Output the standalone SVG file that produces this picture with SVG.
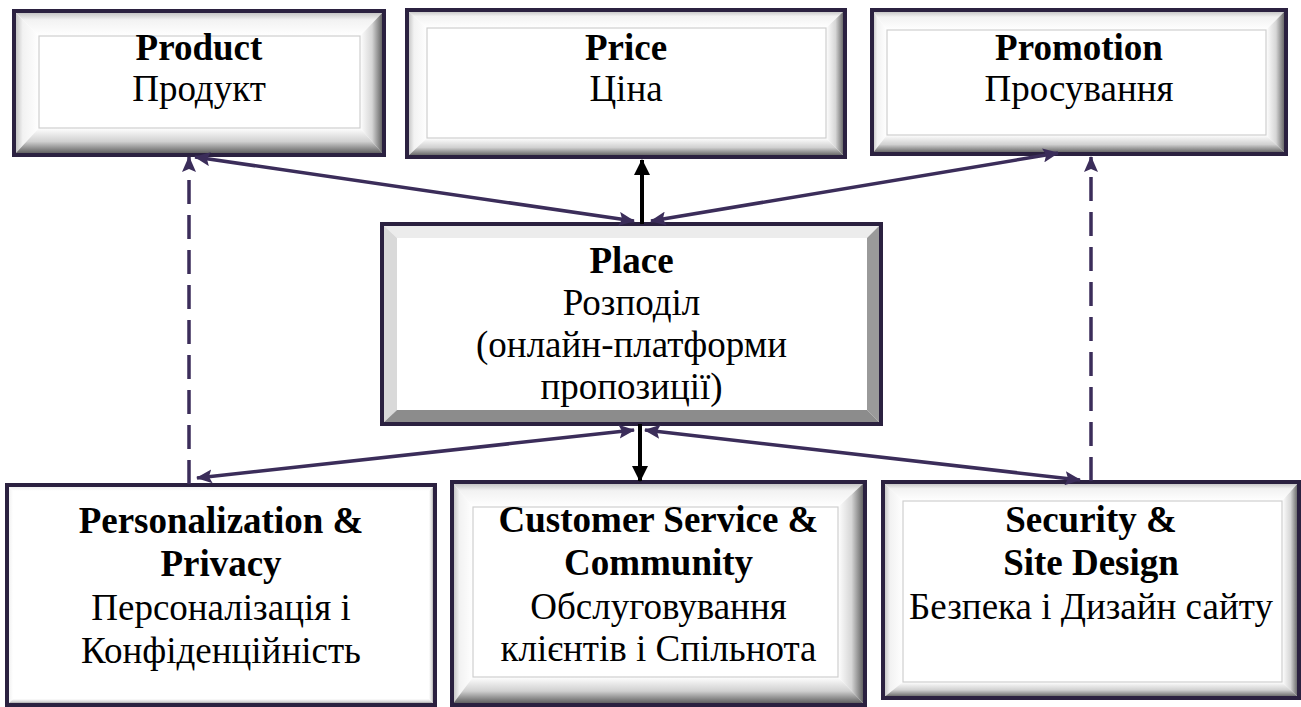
<svg xmlns="http://www.w3.org/2000/svg" width="1301" height="707" viewBox="0 0 1301 707">
<style>
.frame{fill:none;stroke:#2b2140;stroke-width:4}
.inner{fill:#fff;stroke:#cfcfcf;stroke-width:1.2}
.t{font-family:'Liberation Serif', 'Times New Roman', Times, serif;font-size:37px;fill:#000;text-anchor:middle}
.b{font-weight:bold}
.con{fill:none;stroke:#3b2d5a;stroke-width:3.5}
.blk{fill:none;stroke:#000;stroke-width:4}
.dash{stroke-dasharray:24 11}
</style>
<defs>
<linearGradient id="gTop" x1="0" y1="0" x2="0" y2="1"><stop offset="0" stop-color="#b8b8b8"/><stop offset="0.35" stop-color="#f2f2f2"/><stop offset="1" stop-color="#ffffff"/></linearGradient>
<linearGradient id="gLeft" x1="0" y1="0" x2="1" y2="0"><stop offset="0" stop-color="#b8b8b8"/><stop offset="0.35" stop-color="#f2f2f2"/><stop offset="1" stop-color="#ffffff"/></linearGradient>
<linearGradient id="gRight" x1="0" y1="0" x2="1" y2="0"><stop offset="0" stop-color="#ffffff"/><stop offset="0.5" stop-color="#d6d6d6"/><stop offset="1" stop-color="#505050"/></linearGradient>
<linearGradient id="gBottom" x1="0" y1="0" x2="0" y2="1"><stop offset="0" stop-color="#ffffff"/><stop offset="0.5" stop-color="#d0d0d0"/><stop offset="1" stop-color="#505050"/></linearGradient>
<marker id="ap" viewBox="0 0 16 14" refX="15" refY="7" markerWidth="16" markerHeight="14" markerUnits="userSpaceOnUse" orient="auto-start-reverse"><path d="M0,0 L16,7 L0,14 L3,7 z" fill="#3b2d5a"/></marker>
<marker id="ak" viewBox="0 0 16 16" refX="15" refY="8" markerWidth="16" markerHeight="16" markerUnits="userSpaceOnUse" orient="auto"><path d="M0,0 L16,8 L0,16 z" fill="#000"/></marker>
</defs>

<g id="product">
<polygon points="14,11 384,11 360,36 39,36" fill="url(#gTop)"/>
<polygon points="14,11 39,36 39,128 14,155" fill="url(#gLeft)"/>
<polygon points="360,36 384,11 384,155 360,128" fill="url(#gRight)"/>
<polygon points="39,128 360,128 384,155 14,155" fill="url(#gBottom)"/>
<rect class="inner" x="39" y="36" width="321" height="92"/>
<rect class="frame" x="14" y="11" width="370" height="144"/>
<text class="t b" x="199" y="60">Product</text>
<text class="t" x="199" y="101">Продукт</text>
</g>

<g id="price">
<polygon points="407,10 845,10 826,28 427,28" fill="url(#gTop)"/>
<polygon points="407,10 427,28 427,138 407,157" fill="url(#gLeft)"/>
<polygon points="826,28 845,10 845,157 826,138" fill="url(#gRight)"/>
<polygon points="427,138 826,138 845,157 407,157" fill="url(#gBottom)"/>
<rect class="inner" x="427" y="28" width="399" height="110"/>
<rect class="frame" x="407" y="10" width="438" height="147"/>
<text class="t b" x="626" y="60">Price</text>
<text class="t" x="626" y="101">Ціна</text>
</g>

<g id="promotion">
<polygon points="872,10 1286,10 1266,30 887,30" fill="url(#gTop)"/>
<polygon points="872,10 887,30 887,135 872,154" fill="url(#gLeft)"/>
<polygon points="1266,30 1286,10 1286,154 1266,135" fill="url(#gRight)"/>
<polygon points="887,135 1266,135 1286,154 872,154" fill="url(#gBottom)"/>
<rect class="inner" x="887" y="30" width="379" height="105"/>
<rect class="frame" x="872" y="10" width="414" height="144"/>
<text class="t b" x="1079" y="60">Promotion</text>
<text class="t" x="1079" y="101">Просування</text>
</g>

<g id="place">
<polygon points="382,224 881,224 867,238 397,238" fill="#ececec"/>
<polygon points="382,224 397,238 397,410 382,424" fill="#d9d9d9"/>
<polygon points="867,238 881,224 881,424 867,410" fill="#9a9a9a"/>
<polygon points="397,410 867,410 881,424 382,424" fill="#8c8c8c"/>
<rect x="397" y="238" width="470" height="172" fill="#fff"/>
<rect class="frame" x="382" y="224" width="499" height="200"/>
<text class="t b" x="631.5" y="273">Place</text>
<text class="t" x="631.5" y="315">Розподіл</text>
<text class="t" x="631.5" y="357">(онлайн-платформи</text>
<text class="t" x="631.5" y="399">пропозиції)</text>
</g>

<g id="personalization">
<polygon points="7,485 435,485 429,491 13,491" fill="url(#gTop)"/>
<polygon points="7,485 13,491 13,699 7,705" fill="url(#gLeft)"/>
<polygon points="429,491 435,485 435,705 429,699" fill="url(#gRight)"/>
<polygon points="13,699 429,699 435,705 7,705" fill="url(#gBottom)"/>
<rect x="13" y="491" width="416" height="208" fill="#fff"/>
<rect class="frame" x="7" y="485" width="428" height="220"/>
<text class="t b" x="221" y="533">Personalization &amp;</text>
<text class="t b" x="221" y="576">Privacy</text>
<text class="t" x="221" y="620">Персоналізація і</text>
<text class="t" x="221" y="663">Конфіденційність</text>
</g>

<g id="customer">
<polygon points="452,482 865,482 838,507 473,507" fill="url(#gTop)"/>
<polygon points="452,482 473,507 473,677 452,705" fill="url(#gLeft)"/>
<polygon points="838,507 865,482 865,705 838,677" fill="url(#gRight)"/>
<polygon points="473,677 838,677 865,705 452,705" fill="url(#gBottom)"/>
<rect class="inner" x="473" y="507" width="365" height="170"/>
<rect class="frame" x="452" y="482" width="413" height="223"/>
<text class="t b" x="658.5" y="532">Customer Service &amp;</text>
<text class="t b" x="658.5" y="575">Community</text>
<text class="t" x="658.5" y="619">Обслуговування</text>
<text class="t" x="658.5" y="661">клієнтів і Спільнота</text>
</g>

<g id="security">
<polygon points="883,482 1299,482 1282,501 903,501" fill="url(#gTop)"/>
<polygon points="883,482 903,501 903,682 883,698" fill="url(#gLeft)"/>
<polygon points="1282,501 1299,482 1299,698 1282,682" fill="url(#gRight)"/>
<polygon points="903,682 1282,682 1299,698 883,698" fill="url(#gBottom)"/>
<rect class="inner" x="903" y="501" width="379" height="181"/>
<rect class="frame" x="883" y="482" width="416" height="216"/>
<text class="t b" x="1091" y="532">Security &amp;</text>
<text class="t b" x="1091" y="575">Site Design</text>
<text class="t" x="1091" y="619">Безпека і Дизайн сайту</text>
</g>

<g id="connectors">
<line class="con" x1="195" y1="157" x2="634" y2="221" marker-start="url(#ap)" marker-end="url(#ap)"/>
<line class="con" x1="1058" y1="153" x2="651" y2="221" marker-start="url(#ap)" marker-end="url(#ap)"/>
<line class="blk" x1="642" y1="224" x2="642" y2="160" marker-end="url(#ak)"/>
<line class="blk" x1="640" y1="424" x2="640" y2="481" marker-end="url(#ak)"/>
<line class="con" x1="197" y1="478" x2="634" y2="430" marker-start="url(#ap)" marker-end="url(#ap)"/>
<line class="con" x1="1080" y1="480" x2="645" y2="430" marker-start="url(#ap)" marker-end="url(#ap)"/>
<line class="con dash" x1="189" y1="484" x2="189" y2="157" marker-end="url(#ap)"/>
<line class="con dash" x1="1091" y1="481" x2="1091" y2="157" marker-end="url(#ap)"/>
</g>
</svg>
